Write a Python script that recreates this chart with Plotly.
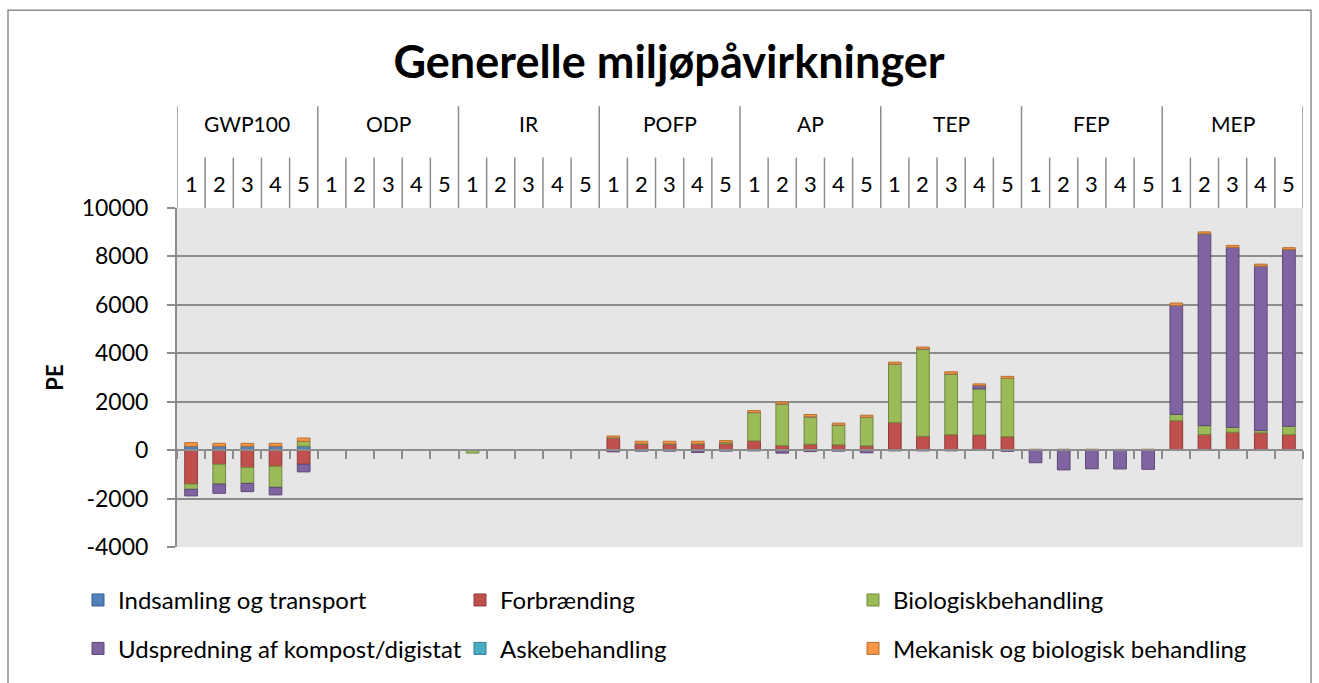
import plotly.graph_objects as go

groups = ["GWP100", "ODP", "IR", "POFP", "AP", "TEP", "FEP", "MEP"]
scenarios = ["1", "2", "3", "4", "5"]

series_names = [
    "Indsamling og transport",
    "Forbrænding",
    "Biologiskbehandling",
    "Udspredning af kompost/digistat",
    "Askebehandling",
    "Mekanisk og biologisk behandling",
]

indsamling = [160, 160, 160, 160, 160,
              5, 5, 5, 5, 5,
              0, 0, 0, 0, 0,
              0, 0, 0, 0, 0,
              0, 0, 0, 0, 0,
              0, 0, 0, 0, 0,
              0, 0, 0, 0, 0,
              20, 20, 20, 20, 20]
forbraending = [-1400, -585, -720, -666, -585,
                0, 0, 0, 0, 0,
                0, 0, 0, 0, 0,
                503, 258, 258, 258, 258,
                381, 190, 245, 218, 177,
                1143, 571, 639, 626, 558,
                0, 0, 0, 0, 0,
                1197, 626, 721, 694, 626]
biologisk = [-218, -816, -653, -870, 204,
             0, 0, 0, 0, 0,
             -120, -10, -10, -10, -10,
             0, 0, 0, 0, 55,
             1170, 1714, 1129, 816, 1183,
             2408, 3605, 2503, 1905, 2408,
             0, 0, 0, 0, 0,
             259, 367, 204, 95, 340]
udspredning = [-272, -381, -340, -313, -313,
               -15, -15, -15, -15, -15,
               0, 0, 0, 0, 0,
               -70, -40, -40, -95, -40,
               -30, -122, -60, -40, -110,
               -30, -30, -30, 136, -50,
               -520, -815, -770, -775, -790,
               4503, 7918, 7429, 6789, 7293]
askebehandling = [0, 0, 0, 0, 0,
                  0, 0, 0, 0, 0,
                  0, 0, 0, 0, 0,
                  0, 0, 0, 0, 0,
                  0, 0, 0, 0, 0,
                  0, 0, 0, 0, 0,
                  30, 30, 30, 0, 30,
                  0, 0, 0, 0, 0]
mekanisk = [150, 122, 122, 122, 136,
            0, 0, 0, 0, 15,
            20, 20, 20, 20, 20,
            80, 109, 109, 109, 80,
            82, 82, 95, 82, 82,
            82, 82, 95, 68, 82,
            0, 0, 0, 30, 0,
            95, 82, 82, 82, 82]

y_ticks = [-4000, -2000, 0, 2000, 4000, 6000, 8000, 10000]
y_tick_labels = ["-4000", "-2000", "0", "2000", "4000", "6000", "8000", "10000"]

series_values = [indsamling, forbraending, biologisk, udspredning, askebehandling, mekanisk]
fill_colors = ["#4F81BD", "#C0504D", "#9BBB59", "#8064A2", "#4BACC6", "#F79646"]
line_colors = ["#385D8A", "#8C3836", "#71893F", "#5C4776", "#357D91", "#B66D31"]

FONT = "Lato"
GRID = "#8c8c8c"

n = len(groups) * len(scenarios)
positions = list(range(n))

# plot geometry (px)
L, R, T, B = 177, 16, 208, 132
W, H = 1319, 683
ph = H - T - B
pw = W - L - R

def py(ypx):
    return (H - B - ypx) / ph

def px(xpx):
    return (xpx - L) / pw

legend_ids = ["legend", "legend2", "legend3", "legend4", "legend5", "legend6"]
legend_text_x = [118, 500, 893]
legend_row_y = [605, 654]

fig = go.Figure()
legend_layouts = {}
for i, (name, vals) in enumerate(zip(series_names, series_values)):
    fig.add_trace(go.Bar(
        x=positions, y=vals, name=name, width=0.45,
        marker=dict(color=fill_colors[i], line=dict(color=line_colors[i], width=1)),
        legend=legend_ids[i], showlegend=True,
    ))
    legend_layouts[legend_ids[i]] = dict(
        x=px(legend_text_x[i % 3] - 40), y=py(legend_row_y[i // 3]),
        xanchor="left", yanchor="middle",
        font=dict(family=FONT, size=24, color="#000"),
        bgcolor="rgba(0,0,0,0)", visible=True,
    )

annotations = []
shapes = []
for g, grp in enumerate(groups):
    annotations.append(dict(x=g * 5 + 2, y=py(122), xref="x", yref="paper", text=grp,
                            showarrow=False, font=dict(family=FONT, size=21, color="#000"),
                            xanchor="center", yanchor="middle"))
    for s, sc in enumerate(scenarios):
        annotations.append(dict(x=g * 5 + s, y=py(183), xref="x", yref="paper", text=sc,
                                showarrow=False, font=dict(family=FONT, size=22, color="#000"),
                                xanchor="center", yanchor="middle"))
for i in range(n + 1):
    top = py(105) if i % 5 == 0 else py(157)
    shapes.append(dict(type="line", xref="x", yref="paper", x0=i - 0.5, x1=i - 0.5,
                       y0=1, y1=top, line=dict(color=GRID, width=1.5)))
# outer chart border
shapes.append(dict(type="rect", xref="paper", yref="paper", x0=px(8), x1=px(1311),
                   y0=py(700), y1=py(8), line=dict(color="#8c8c8c", width=1.5),
                   fillcolor="rgba(0,0,0,0)", layer="below"))

fig.update_layout(
    width=W, height=H, autosize=False,
    showlegend=True,
    margin=dict(l=L, r=R, t=T, b=B, pad=0),
    barmode="relative",
    plot_bgcolor="#E6E6E6",
    paper_bgcolor="#FFFFFF",
    font=dict(family=FONT, size=22, color="#000"),
    title=dict(text="<b>Generelle miljøpåvirkninger</b>", x=669 / W, xref="container",
               y=1 - 62 / H, yref="container", xanchor="center", yanchor="middle",
               font=dict(family=FONT, size=45, color="#000")),
    xaxis=dict(range=[-0.5, n - 0.5], anchor="free", position=4000 / 14000,
               showline=True, linecolor=GRID, linewidth=2,
               ticks="outside", tickvals=[i - 0.5 for i in range(n + 1)], ticklen=8,
               tickcolor=GRID, tickwidth=2, showticklabels=False,
               showgrid=False, zeroline=False),
    yaxis=dict(range=[-4000, 10000], tickmode="array", tickvals=y_ticks, ticktext=y_tick_labels,
               showgrid=True, gridcolor=GRID, gridwidth=1.5,
               showline=True, linecolor=GRID, linewidth=2,
               ticks="outside", ticklen=8, tickcolor=GRID, tickwidth=2,
               ticklabelstandoff=14, zeroline=False,
               tickfont=dict(family=FONT, size=23, color="#000"),
               title=dict(text="<b>PE</b>", standoff=12,
                          font=dict(family=FONT, size=22, color="#000"))),
    annotations=annotations,
    shapes=shapes,
    **legend_layouts,
)

fig.write_html("out.html", config={"displayModeBar": False},
               post_script="document.body.style.margin='0';")
